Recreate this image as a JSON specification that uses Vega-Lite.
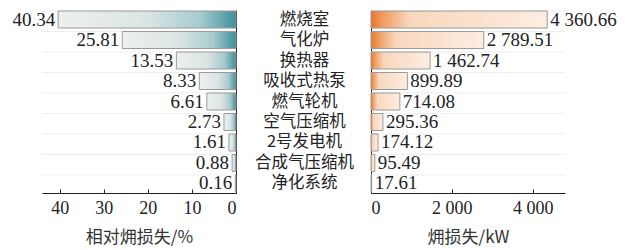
{
  "$schema": "https://vega.github.io/schema/vega-lite/v6.json",
  "background": "white",
  "padding": {"left": 12, "top": 10, "right": 5, "bottom": 5},
  "config": {
    "view": {"stroke": null},
    "locale": {"number": {"decimal": ".", "thousands": " ", "grouping": [3], "currency": ["", ""]}},
    "axis": {"labelFont": "Liberation Serif, Times New Roman, serif", "titleFont": "Noto Sans CJK SC", "labelColor": "#222", "titleColor": "#333", "domainColor": "#222", "tickColor": "#222"}
  },
  "data": {"values": [
    {"name": "燃烧室", "pct": 40.34, "kw": 4360.66},
    {"name": "气化炉", "pct": 25.81, "kw": 2789.51},
    {"name": "换热器", "pct": 13.53, "kw": 1462.74},
    {"name": "吸收式热泵", "pct": 8.33, "kw": 899.89},
    {"name": "燃气轮机", "pct": 6.61, "kw": 714.08},
    {"name": "空气压缩机", "pct": 2.73, "kw": 295.36},
    {"name": "2号发电机", "pct": 1.61, "kw": 174.12},
    {"name": "合成气压缩机", "pct": 0.88, "kw": 95.49},
    {"name": "净化系统", "pct": 0.16, "kw": 17.61}
  ]},
  "hconcat": [
    {
      "width": 194,
      "height": 183,
      "encoding": {
        "y": {"field": "name", "type": "nominal", "sort": null,
              "scale": {"paddingInner": 0.17, "paddingOuter": 0.05},
              "axis": {"orient": "right", "labels": false, "ticks": false, "title": null, "domain": true}}
      },
      "layer": [
        {
          "mark": {"type": "rule", "color": "#eeeeee", "strokeWidth": 1},
          "encoding": {"y": {"field": "name", "type": "nominal", "sort": null, "bandPosition": 0}}
        },
        {
          "mark": {"type": "bar", "stroke": "#9a9a9a", "strokeWidth": 1,
            "color": {"gradient": "linear", "x1": 0, "y1": 0, "x2": 1, "y2": 0,
              "stops": [
                {"offset": 0, "color": "#eef0f0"},
                {"offset": 0.5, "color": "#dbe4e4"},
                {"offset": 0.8, "color": "#a6cbcf"},
                {"offset": 1, "color": "#3f8f9a"}
              ]}},
          "encoding": {
            "x": {"field": "pct", "type": "quantitative",
                  "scale": {"domain": [0, 44], "reverse": true, "nice": false},
                  "axis": {"values": [0, 10, 20, 30, 40], "format": "d", "tickSize": -4, "labelPadding": 10, "labelFontSize": 18, "grid": false,
                           "title": "相对㶲损失/%", "titleFontSize": 17, "titleFontWeight": "normal", "titlePadding": 12}}
          }
        },
        {
          "mark": {"type": "text", "align": "right", "baseline": "middle", "dx": -3, "font": "Liberation Serif, Times New Roman, serif", "fontSize": 19, "color": "#222"},
          "encoding": {
            "x": {"field": "pct", "type": "quantitative"},
            "text": {"field": "pct", "type": "quantitative", "format": ".2f"}
          }
        }
      ]
    },
    {
      "width": 194,
      "height": 183,
      "encoding": {
        "y": {"field": "name", "type": "nominal", "sort": null,
              "scale": {"paddingInner": 0.17, "paddingOuter": 0.05},
              "axis": {"orient": "left", "ticks": false, "title": null, "domain": true,
                       "labelAlign": "center", "labelPadding": 67, "labelFont": "Noto Sans CJK SC", "labelFontSize": 16.5, "labelColor": "#222"}}
      },
      "layer": [
        {
          "mark": {"type": "rule", "color": "#eeeeee", "strokeWidth": 1},
          "encoding": {"y": {"field": "name", "type": "nominal", "sort": null, "bandPosition": 0}}
        },
        {
          "mark": {"type": "bar", "stroke": "#9a9a9a", "strokeWidth": 1,
            "color": {"gradient": "linear", "x1": 0, "y1": 0, "x2": 1, "y2": 0,
              "stops": [
                {"offset": 0, "color": "#e9772c"},
                {"offset": 0.07, "color": "#f19d62"},
                {"offset": 0.22, "color": "#f9d7bd"},
                {"offset": 1, "color": "#fdede1"}
              ]}},
          "encoding": {
            "x": {"field": "kw", "type": "quantitative",
                  "scale": {"domain": [0, 4800], "nice": false},
                  "axis": {"values": [0, 2000, 4000], "format": ",d", "tickSize": -4, "labelPadding": 10, "labelFontSize": 18, "grid": false,
                           "title": "㶲损失/kW", "titleFontSize": 17, "titleFontWeight": "normal", "titlePadding": 12}}
          }
        },
        {
          "mark": {"type": "text", "align": "left", "baseline": "middle", "dx": 3, "font": "Liberation Serif, Times New Roman, serif", "fontSize": 19, "color": "#222"},
          "encoding": {
            "x": {"field": "kw", "type": "quantitative"},
            "text": {"field": "kw", "type": "quantitative", "format": ",.2f"}
          }
        }
      ]
    }
  ],
  "spacing": 135,
  "bounds": "flush"
}
